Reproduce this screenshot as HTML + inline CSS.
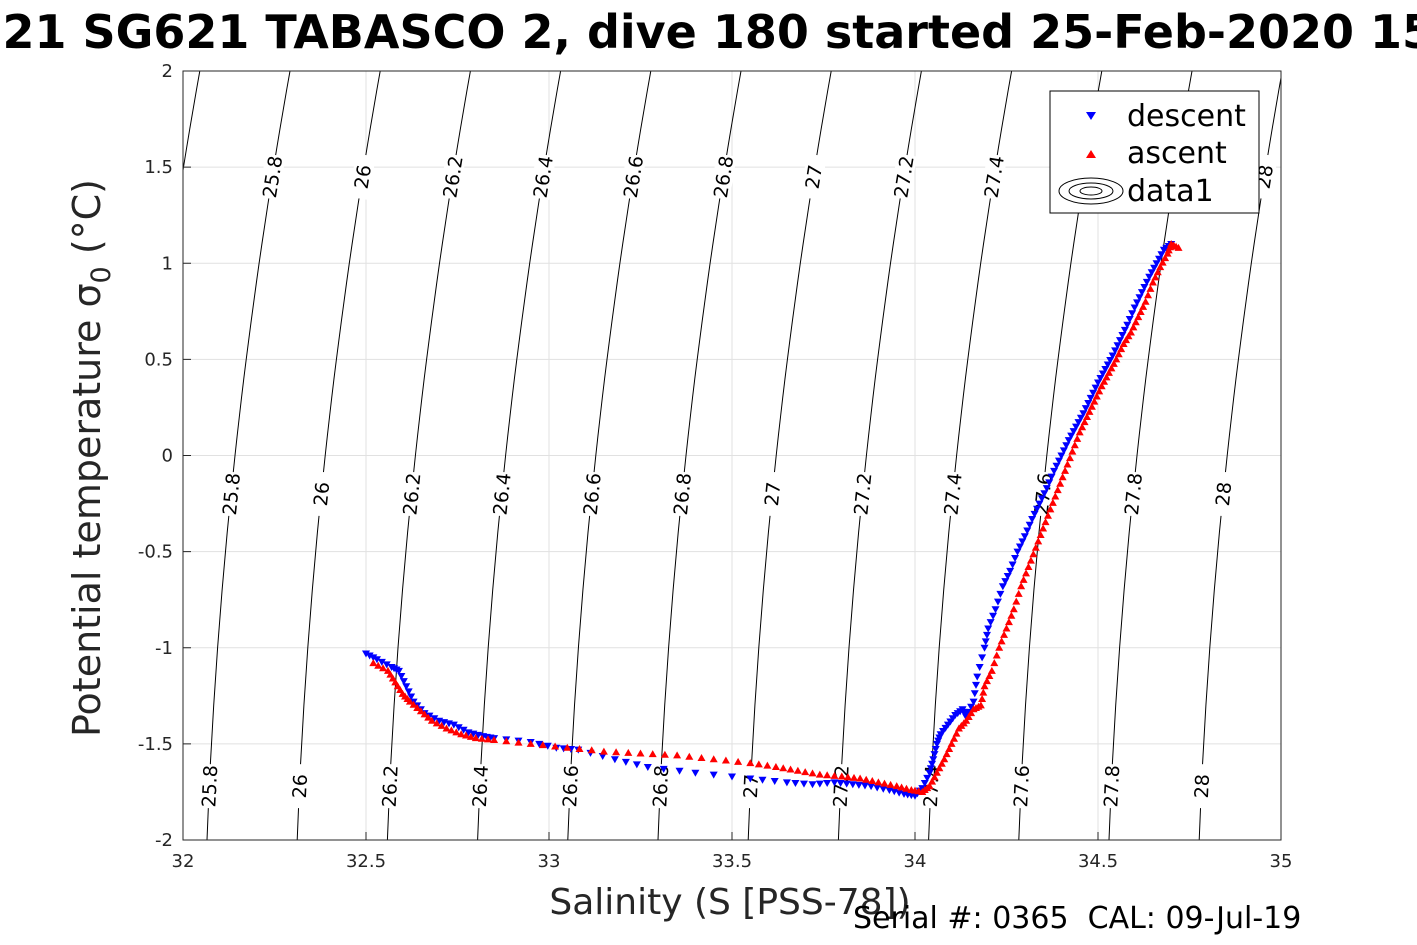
<!DOCTYPE html>
<html><head><meta charset="utf-8"><style>
body{margin:0;background:#fff;overflow:hidden;}
svg{display:block;font-family:"DejaVu Sans","Liberation Sans",sans-serif;}
</style></head><body>
<svg id="c" width="1417" height="945" viewBox="0 0 1417 945">
<rect width="1417" height="945" fill="#fff"/>
<text x="708" y="48" text-anchor="middle" font-size="46" font-weight="bold" fill="#000">SG621 SG621 TABASCO 2, dive 180 started 25-Feb-2020 15:41</text>
<g id="grid"></g><g id="cont"></g><g id="marks"></g><g id="axes"></g>
<text x="730" y="914" text-anchor="middle" font-size="36" fill="#262626">Salinity (S [PSS-78])</text>
<text transform="translate(100,458) rotate(-90)" text-anchor="middle" font-size="38" fill="#262626">Potential temperature σ<tspan font-size="27" dy="10">0</tspan><tspan dy="-10"> (°C)</tspan></text>
<text x="853" y="928" font-size="30" fill="#000" xml:space="preserve" style="white-space:pre">Serial #: 0365  CAL: 09-Jul-19</text>
<g>
<rect x="1050" y="91" width="209" height="122" fill="#fff" stroke="#000" stroke-width="1"/>
<polygon points="1086,112 1096,112 1091,120" fill="#00f"/>
<text x="1127" y="126" font-size="30">descent</text>
<polygon points="1086,158 1096,158 1091,150" fill="#f00"/>
<text x="1127" y="163" font-size="30">ascent</text>
<g fill="none" stroke="#000" stroke-width="1">
<ellipse cx="1091" cy="191" rx="32" ry="13"/><ellipse cx="1091" cy="191" rx="22" ry="8"/><ellipse cx="1091" cy="191" rx="11" ry="4"/></g>
<text x="1127" y="201" font-size="30">data1</text>
</g>
</svg>
<script>
const xTicks=[32,32.5,33,33.5,34,34.5,35];
const yTicks=[-2,-1.5,-1,-0.5,0,0.5,1,1.5,2];
const sigmaLevels=[25.6,25.8,26,26.2,26.4,26.6,26.8,27,27.2,27.4,27.6,27.8,28];
const descentS=[32.5,32.53,32.57,32.59,32.61,32.63,32.66,32.7,32.74,32.78,32.82,32.85,32.95,33.02,33.08,33.18,33.27,33.4,33.55,33.65,33.72,33.78,33.83,33.88,33.93,33.97,34.0,34.02,34.04,34.05,34.06,34.07,34.09,34.11,34.13,34.14,34.16,34.17,34.19,34.2,34.22,34.24,34.26,34.28,34.3,34.32,34.34,34.36,34.38,34.4,34.42,34.44,34.46,34.48,34.5,34.52,34.54,34.56,34.58,34.6,34.62,34.64,34.66,34.68,34.7];
const descentT=[-1.03,-1.06,-1.1,-1.12,-1.2,-1.28,-1.34,-1.38,-1.4,-1.44,-1.46,-1.47,-1.49,-1.52,-1.53,-1.58,-1.62,-1.65,-1.68,-1.7,-1.71,-1.7,-1.71,-1.72,-1.74,-1.76,-1.77,-1.73,-1.65,-1.58,-1.5,-1.45,-1.4,-1.35,-1.32,-1.36,-1.28,-1.15,-1.0,-0.9,-0.8,-0.68,-0.6,-0.5,-0.42,-0.33,-0.25,-0.17,-0.08,0.0,0.08,0.15,0.22,0.3,0.38,0.45,0.52,0.6,0.68,0.77,0.85,0.93,1.0,1.07,1.1];
const ascentS=[32.52,32.56,32.58,32.6,32.62,32.65,32.68,32.72,32.76,32.8,32.85,32.95,33.05,33.15,33.25,33.35,33.45,33.55,33.62,33.68,33.74,33.8,33.85,33.9,33.95,33.99,34.02,34.04,34.06,34.08,34.1,34.12,34.14,34.16,34.18,34.19,34.21,34.23,34.25,34.27,34.29,34.31,34.33,34.35,34.37,34.39,34.41,34.43,34.45,34.47,34.49,34.51,34.53,34.55,34.57,34.59,34.61,34.63,34.65,34.67,34.69,34.7,34.72];
const ascentT=[-1.08,-1.12,-1.18,-1.24,-1.28,-1.33,-1.38,-1.42,-1.45,-1.47,-1.48,-1.5,-1.52,-1.54,-1.55,-1.56,-1.58,-1.6,-1.62,-1.64,-1.66,-1.67,-1.68,-1.7,-1.72,-1.74,-1.75,-1.72,-1.65,-1.58,-1.5,-1.42,-1.38,-1.32,-1.3,-1.2,-1.12,-1.0,-0.9,-0.8,-0.68,-0.58,-0.48,-0.38,-0.28,-0.18,-0.08,0.02,0.12,0.2,0.28,0.36,0.43,0.5,0.58,0.64,0.72,0.8,0.9,0.98,1.05,1.1,1.08];
const NS='http://www.w3.org/2000/svg';
const X0=183,X1=1281,Y0=840,Y1=71;
const xs=s=>X0+(s-32)/3*(X1-X0);
const ys=t=>Y0-(t+2)/4*(Y0-Y1);
function mk(tag,attrs,parent){const e=document.createElementNS(NS,tag);for(const k in attrs)e.setAttribute(k,attrs[k]);parent.appendChild(e);return e;}
const grid=document.getElementById('grid'),axes=document.getElementById('axes'),cont=document.getElementById('cont'),marks=document.getElementById('marks');
xTicks.forEach(v=>{const x=xs(v);
 const g=mk('line',{x1:x,x2:x,y1:Y1,y2:Y0,stroke:'#e1e1e1','stroke-width':1},grid);
 
 
 const t=mk('text',{x:x,y:867,'text-anchor':'middle','font-size':18,fill:'#262626'},axes);t.textContent=v;
 
 
 mk('line',{x1:x,x2:x,y1:Y0,y2:Y0-8,stroke:'#262626'},axes);});
yTicks.forEach(v=>{const y=ys(v);
 const g=mk('line',{x1:X0,x2:X1,y1:y,y2:y,stroke:'#e1e1e1','stroke-width':1},grid);
 
 
 const t=mk('text',{x:173,y:y+6,'text-anchor':'end','font-size':18,fill:'#262626'},axes);t.textContent=v;
 
 
 mk('line',{x1:X0,x2:X0+8,y1:y,y2:y,stroke:'#262626'},axes);});
const box=mk('rect',{x:X0,y:Y1,width:X1-X0,height:Y0-Y1,fill:'none',stroke:'#262626','stroke-width':1},axes);


const cp=document.createElementNS(NS,'clipPath');cp.id='clip';mk('rect',{x:X0,y:Y1,width:X1-X0,height:Y0-Y1},cp);document.querySelector('svg').appendChild(cp);
cont.setAttribute('clip-path','url(#clip)');
const cx=(s,t)=>207+(s-25.8)/0.2*90.2+7.25*(t+2)+3.375*(t+2)*(t+2);
sigmaLevels.forEach(s=>{let d='';for(let t=-2;t<=2.001;t+=0.1){d+=(d?'L':'M')+cx(s,t).toFixed(1)+','+ys(t).toFixed(1);}
 const p=mk('path',{d:d,fill:'none',stroke:'#000','stroke-width':1},cont);
 
 
 [-1.72,-0.2,1.45].forEach(t=>{const x=cx(s,t),y=ys(t);if(x<X0+15||x>X1-8)return;
  const dx=cx(s,t+0.05)-cx(s,t-0.05),dy=ys(t+0.05)-ys(t-0.05);const ang=Math.atan2(dy,dx)*180/Math.PI;
  mk('rect',{x:-22,y:-10,width:44,height:20,fill:'#fff',transform:`translate(${x},${y}) rotate(${ang})`},cont);
  const lb=mk('text',{x:0,y:7,'text-anchor':'middle','font-size':19,fill:'#000',transform:`translate(${x},${y}) rotate(${ang})`},cont);
  lb.textContent=s;
  
  });});
descentS.forEach((s,i)=>{const x=xs(s),y=ys(descentT[i]);
 const p=mk('polygon',{points:`${x-4},${y-3} ${x+4},${y-3} ${x},${y+4}`,fill:'#00f'},marks);
 
 
 if(i<descentS.length-1){const n=3;for(let k=1;k<n;k++){const s2=s+(descentS[i+1]-s)*k/n,t2=descentT[i]+(descentT[i+1]-descentT[i])*k/n;const x2=xs(s2),y2=ys(t2);
  const q=mk('polygon',{points:`${x2-4},${y2-3} ${x2+4},${y2-3} ${x2},${y2+4}`,fill:'#00f'},marks);
  
  }}});
ascentS.forEach((s,i)=>{const x=xs(s),y=ys(ascentT[i]);
 const p=mk('polygon',{points:`${x-4},${y+3} ${x+4},${y+3} ${x},${y-4}`,fill:'#f00'},marks);
 
 
 if(i<ascentS.length-1){const n=3;for(let k=1;k<n;k++){const s2=s+(ascentS[i+1]-s)*k/n,t2=ascentT[i]+(ascentT[i+1]-ascentT[i])*k/n;const x2=xs(s2),y2=ys(t2);
  const q=mk('polygon',{points:`${x2-4},${y2+3} ${x2+4},${y2+3} ${x2},${y2-4}`,fill:'#f00'},marks);
  
  }}});
</script>
</body></html>
